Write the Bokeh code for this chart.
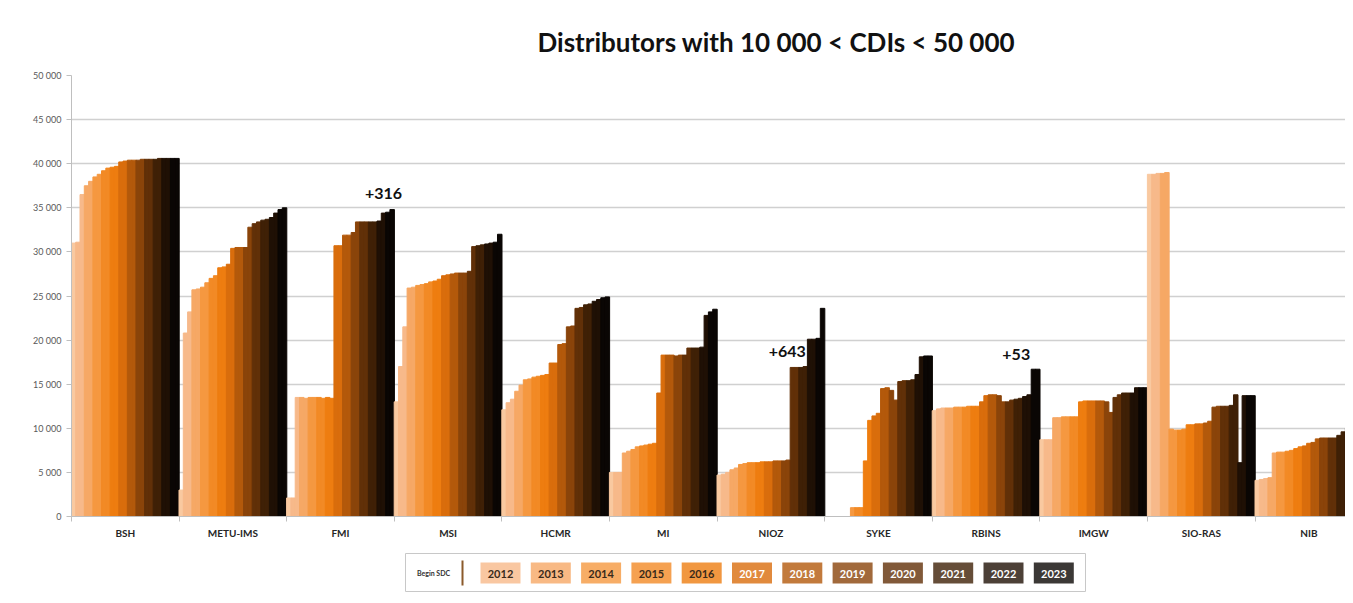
from bokeh.plotting import figure
from bokeh.models import Range1d, FixedTicker, ColumnDataSource, Title
from bokeh.layouts import column
from bokeh.embed import file_html
from bokeh.resources import INLINE
from bokeh.core.properties import value

distributors = ["BSH", "METU-IMS", "FMI", "MSI", "HCMR", "MI", "NIOZ",
                "SYKE", "RBINS", "IMGW", "SIO-RAS", "NIB"]
years = [2012, 2013, 2014, 2015, 2016, 2017, 2018, 2019, 2020, 2021, 2022, 2023]
# one "Begin SDC" value followed by two half-year values per year
periods = ["Begin SDC"] + [f"{y} H{h}" for y in years for h in (1, 2)]

bsh = [31000, 31100, 36500, 37500, 38000, 38500, 38800, 39200, 39500, 39600, 39700, 40200, 40300,
       40400, 40400, 40400, 40500, 40500, 40500, 40500, 40600, 40600, 40600, 40600, 40600]
metu_ims = [3000, 20800, 23200, 25700, 25800, 26000, 26500, 27000, 27300, 28200, 28300, 28600, 30400,
            30500, 30500, 30500, 32800, 33200, 33400, 33600, 33700, 33900, 34400, 34800, 35000]
fmi = [2100, 2100, 13500, 13500, 13400, 13500, 13500, 13500, 13400, 13500, 13400, 30700, 30700,
       31900, 31900, 32200, 33400, 33400, 33400, 33400, 33400, 33500, 34400, 34500, 34800]
msi = [13000, 17000, 21500, 25900, 26000, 26200, 26300, 26400, 26600, 26700, 26900, 27300, 27400,
       27500, 27600, 27600, 27600, 27800, 30600, 30700, 30800, 30900, 31000, 31100, 32000]
hcmr = [12100, 12900, 13300, 14200, 14900, 15500, 15600, 15800, 15900, 16000, 16100, 17400, 17400,
        19500, 19600, 21500, 21600, 23600, 23700, 24000, 24100, 24400, 24600, 24800, 24900]
mi = [5000, 5000, 5000, 7200, 7400, 7600, 7900, 8000, 8100, 8200, 8300, 14000, 18300,
      18300, 18300, 18200, 18300, 18300, 19100, 19100, 19100, 19200, 22800, 23200, 23500]
nioz = [4700, 4800, 5000, 5300, 5500, 5900, 6000, 6100, 6100, 6100, 6200, 6200, 6200,
        6300, 6300, 6300, 6400, 16900, 16900, 16900, 17000, 20100, 20100, 20200, 23600]
syke = [0, 0, 0, 0, 0, 0, 1000, 1000, 1000, 6300, 10900, 11400, 11700,
        14500, 14600, 14300, 13200, 15300, 15400, 15400, 15500, 16100, 18100, 18200, 18200]
rbins = [12000, 12200, 12300, 12300, 12300, 12400, 12400, 12400, 12500, 12500, 12500, 13000, 13700,
         13800, 13800, 13700, 13000, 13000, 13200, 13300, 13400, 13600, 13800, 16700, 16700]
imgw = [8700, 8700, 8700, 11200, 11200, 11300, 11300, 11300, 11300, 13000, 13100, 13100, 13100,
        13100, 13100, 13000, 11800, 13500, 13800, 14000, 14000, 14000, 14600, 14600, 14600]
sio_ras = [38800, 38800, 38900, 38900, 39000, 9900, 9800, 9800, 9900, 10400, 10400, 10500, 10500,
           10600, 10800, 12400, 12500, 12500, 12500, 12600, 13800, 6100, 13700, 13700, 13700]
nib = [4100, 4200, 4300, 4400, 7200, 7300, 7300, 7400, 7500, 7700, 7900, 8000, 8300,
       8400, 8800, 8900, 8900, 8900, 8900, 9200, 9600, 10000, 10000, 10100, 10200]

series = [bsh, metu_ims, fmi, msi, hcmr, mi, nioz, syke, rbins, imgw, sio_ras, nib]

begin_color = "#f9c9a0"
year_colors = ["#f7b98a", "#f6a865", "#f59840", "#f28a25", "#ee7d10", "#d96d0c",
               "#b3590b", "#8a440a", "#613008", "#3f2006", "#1f1005", "#0a0604"]
period_colors = [begin_color] + [c for c in year_colors for _ in (1, 2)]

# annotations: distributor, text, bar index it sits over, shift in bars, extra height
ann_group = ["FMI", "NIOZ", "RBINS"]
ann_text = ["+316", "+643", "+53"]
ann_bar = [22, 17, 23]
ann_shift = [0.0, -1.2, -4.0]
ann_extra = [2200, 1800, 1700]

n = len(periods)
xs, tops, cols = [], [], []
for gi, vals in enumerate(series):
    for j, v in enumerate(vals):
        xs.append(gi + (j + 0.5) / n)
        tops.append(v)
        cols.append(period_colors[j])
src = ColumnDataSource(dict(x=xs, top=tops, color=cols))

FONT = "Lato"
W = 1345
LEFT = 71
p = figure(width=W, height=541, x_range=Range1d(0, 11.84), y_range=Range1d(0, 50000),
           output_backend="svg", toolbar_location=None,
           min_border_left=LEFT, min_border_right=0, min_border_top=75, min_border_bottom=24)
p.vbar(x="x", top="top", width=1.0 / n * 1.05, color="color", source=src)

ax, ay = [], []
for k, g in enumerate(ann_group):
    gi = distributors.index(g)
    ax.append(gi + (ann_bar[k] + 0.5 + ann_shift[k]) / n)
    ay.append(series[gi][ann_bar[k]] + ann_extra[k])
p.text(x=ax, y=ay, text=ann_text, text_font=value(FONT), text_font_size="16px",
       text_font_style="bold", text_align="center", text_baseline="middle", text_color="#111111")

spacer = Title(text=" ", text_font_size="1px")
p.add_layout(spacer, "above")
title = Title(text="Distributors with 10 000 < CDIs < 50 000", text_font=FONT,
              text_font_size="26px", text_font_style="bold", align="left", offset=466,
              text_color="#111111")
p.add_layout(title, "above")

yt = list(range(0, 50001, 5000))
p.yaxis.ticker = FixedTicker(ticks=yt)
p.yaxis.major_label_overrides = {t: f"{t:,}".replace(",", " ") for t in yt}
p.yaxis.major_label_text_font = FONT
p.yaxis.major_label_text_font_size = "9px"
p.yaxis.major_label_text_color = "#595959"
p.yaxis.axis_line_color = "#bfbfbf"
p.yaxis.major_tick_line_color = "#bfbfbf"
p.yaxis.major_tick_out = 5
p.yaxis.major_tick_in = 0
p.yaxis.minor_tick_line_color = None

centers = [i + 0.5 for i in range(len(distributors))]
p.xaxis.ticker = FixedTicker(ticks=centers, minor_ticks=list(range(len(distributors) + 1)))
p.xaxis.major_label_overrides = {c: d for c, d in zip(centers, distributors)}
p.xaxis.major_label_text_font = FONT
p.xaxis.major_label_text_font_size = "10px"
p.xaxis.major_label_text_font_style = "bold"
p.xaxis.major_label_text_color = "#262626"
p.xaxis.major_tick_line_color = None
p.xaxis.minor_tick_line_color = "#bfbfbf"
p.xaxis.minor_tick_out = 5
p.xaxis.minor_tick_in = 0
p.xaxis.axis_line_color = "#bfbfbf"
p.xaxis.major_label_standoff = 4

p.xgrid.grid_line_color = None
p.ygrid.grid_line_color = "#d0d0d0"
p.ygrid.grid_line_width = 1.5
p.outline_line_color = None

# legend strip below the chart; its frame is aligned with the chart frame,
# so its data coordinates equal page pixels
LG_TOP = 541
LG_H = 58
lg = figure(width=W, height=LG_H, x_range=Range1d(LEFT, W), y_range=Range1d(LG_TOP + LG_H, LG_TOP),
            output_backend="svg", toolbar_location=None, min_border=0)
lg.axis.visible = False
lg.grid.grid_line_color = None
lg.outline_line_color = None
lg.quad(left=[405], right=[1085], top=[553], bottom=[591], fill_color="white",
        line_color="#c8c8c8", line_width=1)
lg.text(x=[433], y=[572], text=["Begin SDC"], text_font=value(FONT), text_font_size="7px",
        text_font_style="bold", text_align="center", text_baseline="middle", text_color="#333333")
lg.segment(x0=[462], y0=[560], x1=[462], y1=[585], line_color="#8b5a2b", line_width=2)
bx = [500 + 50.3 * k for k in range(len(years))]
lg.rect(x=bx, y=[572.5] * len(years), width=40, height=21, fill_color=year_colors,
        fill_alpha=0.8, line_color=None)
txt_cols = ["#3a2a1a" if k < 5 else "#ffffff" for k in range(len(years))]
lg.text(x=bx, y=[573] * len(years), text=[str(y) for y in years], text_font=value(FONT),
        text_font_size="11px", text_font_style="bold", text_align="center",
        text_baseline="middle", text_color=txt_cols)

layout = column(p, lg, spacing=0)
open("out.html", "w").write(file_html(layout, INLINE))
